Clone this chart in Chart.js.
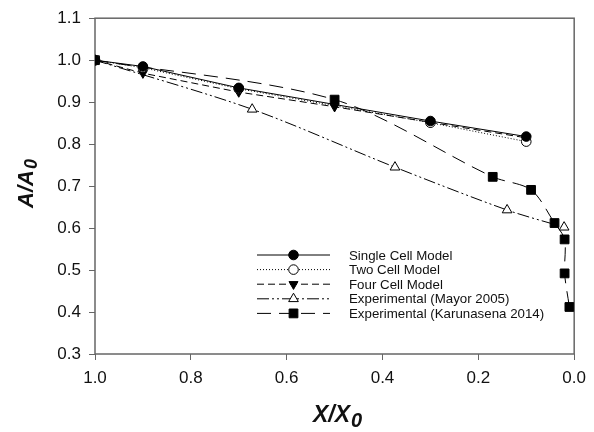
<!DOCTYPE html>
<html lang="en">
<head>
  <meta charset="UTF-8" />
  <title>A/A0 vs X/X0</title>
  <style>
    body { margin: 0; background: #ffffff; }
    canvas { display: block; }
  </style>
  <script src="https://cdn.jsdelivr.net/npm/chart.js"></script>
</head>
<body>
  <canvas id="chart" width="594" height="432"></canvas>

  <script>
    // values
    const singleX = [1.0, 0.9, 0.7, 0.3, 0.1];
    const singleY = [1.0, 0.985, 0.934, 0.855, 0.818];

    const twoX = [1.0, 0.9, 0.7, 0.3, 0.1];
    const twoY = [1.0, 0.982, 0.932, 0.851, 0.806];

    const fourX = [1.0, 0.9, 0.7, 0.5, 0.3, 0.1];
    const fourY = [1.0, 0.969, 0.924, 0.889, 0.852, 0.815];

    const mayorX = [1.0, 0.672, 0.374, 0.14, 0.021];
    const mayorY = [1.0, 0.883, 0.745, 0.643, 0.602];

    const karuX = [1.0, 0.5, 0.17, 0.09, 0.041, 0.020, 0.020, 0.010];
    const karuY = [1.0, 0.906, 0.722, 0.691, 0.612, 0.573, 0.492, 0.412];

    const xTicks = [1.0, 0.8, 0.6, 0.4, 0.2, 0.0];
    const yTicks = [0.3, 0.4, 0.5, 0.6, 0.7, 0.8, 0.9, 1.0, 1.1];

    const toPts = (xs, ys) => xs.map((x, i) => ({ x, y: ys[i] }));

    const series = [
      { label: "Single Cell Model", data: toPts(singleX, singleY), dash: [], style: "circle", fill: "#000", r: 4.8, rot: 0, tension: 0 },
      { label: "Two Cell Model", data: toPts(twoX, twoY), dash: [1, 2], style: "circle", fill: "#fff", r: 4.8, rot: 0, tension: 0 },
      { label: "Four Cell Model", data: toPts(fourX, fourY), dash: [7, 4], style: "triangle", fill: "#000", r: 5.2, rot: 180, tension: 0 },
      { label: "Experimental (Mayor 2005)", data: toPts(mayorX, mayorY), dash: [12, 3, 2, 3, 2, 3], style: "triangle", fill: "#fff", r: 5.6, rot: 0, tension: 0.3 },
      { label: "Experimental (Karunasena 2014)", data: toPts(karuX, karuY), dash: [14, 8], style: "rect", fill: "#000", r: 6.2, rot: 0, tension: 0.3 }
    ];

    const FONT = "Arial, 'Liberation Sans', sans-serif";

    const framePlugin = {
      id: "frame",
      beforeDatasetsDraw(chart) {
        const { ctx, chartArea: a } = chart;
        ctx.save();
        ctx.strokeStyle = "#666";
        ctx.lineWidth = 1.5;
        ctx.strokeRect(a.left, a.top, a.right - a.left, a.bottom - a.top);
        ctx.restore();
      },
      afterDraw(chart) {
        const { ctx } = chart;
        ctx.save();
        ctx.fillStyle = "#111";

        // x title with lowered 0
        ctx.textBaseline = "alphabetic";
        ctx.textAlign = "left";
        ctx.font = "italic bold 23px " + FONT;
        const w1 = ctx.measureText("X/X").width;
        ctx.font = "italic bold 20px " + FONT;
        const w2 = ctx.measureText("0").width;
        const sx = 337 - (w1 + w2) / 2;
        ctx.font = "italic bold 23px " + FONT;
        ctx.fillText("X/X", sx, 422);
        ctx.font = "italic bold 20px " + FONT;
        ctx.fillText("0", sx + w1 + 1, 427);

        // y title
        ctx.save();
        ctx.translate(33, 184);
        ctx.rotate(-Math.PI / 2);
        ctx.font = "italic bold 22px " + FONT;
        const v1 = ctx.measureText("A/A").width;
        ctx.font = "italic bold 18px " + FONT;
        const v2 = ctx.measureText("0").width;
        const sy = -(v1 + v2) / 2;
        ctx.font = "italic bold 22px " + FONT;
        ctx.fillText("A/A", sy, 0);
        ctx.font = "italic bold 18px " + FONT;
        ctx.fillText("0", sy + v1 + 1, 4);
        ctx.restore();

        // legend
        const x0 = 257, x1 = 330, xm = 293.5, tx = 349;
        let y = 255;
        ctx.font = "13.3px " + FONT;
        ctx.textBaseline = "middle";
        series.forEach(s => {
          ctx.strokeStyle = "#000";
          ctx.lineWidth = 1;
          ctx.setLineDash(s.dash);
          ctx.beginPath();
          ctx.moveTo(x0, y);
          ctx.lineTo(x1, y);
          ctx.stroke();
          ctx.setLineDash([]);
          ctx.fillStyle = s.fill;
          Chart.helpers.drawPoint(ctx, { pointStyle: s.style, radius: s.r, rotation: s.rot, borderWidth: 1 }, xm, y);
          ctx.fillStyle = "#111";
          ctx.fillText(s.label, tx, y + 1);
          y += 14.6;
        });
        ctx.restore();
      }
    };

    new Chart(document.getElementById("chart"), {
      type: "line",
      data: {
        datasets: series.map(s => ({
          label: s.label,
          data: s.data,
          borderColor: "#000",
          borderWidth: 1,
          borderDash: s.dash,
          tension: s.tension,
          pointStyle: s.style,
          pointRadius: s.r,
          pointRotation: s.rot,
          pointBackgroundColor: s.fill,
          pointBorderColor: "#000",
          pointBorderWidth: 1,
          fill: false
        }))
      },
      options: {
        responsive: false,
        animation: false,
        devicePixelRatio: 1,
        layout: { padding: { top: 14, right: 14, left: 0, bottom: 0 } },
        plugins: { legend: { display: false }, tooltip: { enabled: false } },
        scales: {
          x: {
            type: "linear",
            reverse: true,
            min: 0,
            max: 1,
            afterFit: s => { s.height = 78; },
            afterBuildTicks: s => { s.ticks = xTicks.map(v => ({ value: v })); },
            ticks: { font: { size: 17, family: FONT }, color: "#111", padding: 8, maxRotation: 0,
                     callback: v => Number(v).toFixed(1) },
            grid: { drawOnChartArea: false, tickLength: 6, color: "#666", lineWidth: 1 },
            border: { display: false }
          },
          y: {
            min: 0.3,
            max: 1.1,
            afterFit: s => { s.width = 95; },
            afterBuildTicks: s => { s.ticks = yTicks.map(v => ({ value: v })); },
            ticks: { font: { size: 17, family: FONT }, color: "#111", padding: 8,
                     callback: v => Number(v).toFixed(1) },
            grid: { drawOnChartArea: false, tickLength: 6, color: "#666", lineWidth: 1 },
            border: { display: false }
          }
        }
      },
      plugins: [framePlugin]
    });
  </script>
</body>
</html>
